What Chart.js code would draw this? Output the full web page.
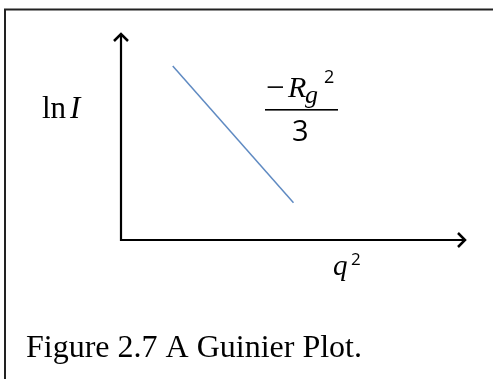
<!DOCTYPE html>
<html>
<head>
<meta charset="utf-8">
<script src="https://cdn.jsdelivr.net/npm/chart.js@4"></script>
<style>
    body { margin: 0; background: #ffffff; }
    canvas { display: block; }
</style>
</head>
<body>
<canvas id="guinier" width="493" height="379"></canvas>
<script>
// q^2 vs ln I, the straight Guinier region
const q2 = [1.5, 5.0];
const lnI = [8.4, 1.8];
const xRange = [0, 10];
const yRange = [0, 10];

const caption = 'Figure 2.7 A Guinier Plot.';

const sketch = {
    id: 'sketch',
    beforeDraw: function (chart) {
        const ctx = chart.ctx;
        ctx.save();
        ctx.fillStyle = '#ffffff';
        ctx.fillRect(0, 0, chart.width, chart.height);
        // frame round the figure, runs off the right and bottom
        ctx.strokeStyle = '#222222';
        ctx.lineWidth = 2;
        ctx.strokeRect(5, 9.5, chart.width + 20, chart.height + 20);
        ctx.restore();
    },
    afterDraw: function (chart) {
        const ctx = chart.ctx;
        const a = chart.chartArea;
        ctx.save();

        // axes with open arrow heads
        ctx.strokeStyle = '#000000';
        ctx.lineWidth = 2.2;
        ctx.lineCap = 'butt';
        ctx.beginPath();
        ctx.moveTo(a.left, a.top + 1);
        ctx.lineTo(a.left, a.bottom);
        ctx.lineTo(a.right - 1, a.bottom);
        ctx.stroke();
        ctx.lineWidth = 2.5;
        ctx.beginPath();
        ctx.moveTo(a.left - 7, a.top + 8);
        ctx.lineTo(a.left, a.top + 1);
        ctx.lineTo(a.left + 7, a.top + 8);
        ctx.moveTo(a.right - 8, a.bottom - 7);
        ctx.lineTo(a.right - 1, a.bottom);
        ctx.lineTo(a.right - 8, a.bottom + 7);
        ctx.stroke();

        ctx.fillStyle = '#000000';
        ctx.textBaseline = 'alphabetic';

        // y axis label: ln I
        ctx.font = '31px "Liberation Serif"';
        ctx.fillText('ln', 42, 118);
        ctx.font = 'italic 31px "Liberation Serif"';
        ctx.fillText('I', 70, 118);

        // slope: -Rg^2 / 3
        ctx.font = '33px "Liberation Serif"';
        ctx.fillText('\u2212', 266, 98);
        ctx.font = 'italic 30px "Liberation Serif"';
        ctx.fillText('R', 288, 97);
        ctx.font = 'italic 26px "Liberation Serif"';
        ctx.fillText('g', 305, 103);
        ctx.font = '18px "Open Sans"';
        ctx.fillText('2', 324, 83);
        ctx.fillRect(265, 109, 73, 1.6);
        ctx.font = '29px "Open Sans"';
        ctx.fillText('3', 292, 141);

        // x axis label: q^2
        ctx.font = 'italic 29px "Liberation Serif"';
        ctx.fillText('q', 333, 275);
        ctx.font = '17px "Open Sans"';
        ctx.fillText('2', 351, 265);

        // caption
        ctx.font = '32px "Liberation Serif"';
        ctx.fillText(caption, 26, 357);

        ctx.restore();
    }
};

const data = {
    datasets: [{
        label: 'ln I',
        data: q2.map(function (x, i) { return { x: x, y: lnI[i] }; }),
        borderColor: '#5f8ac2',
        borderWidth: 1.5,
        pointRadius: 0,
        fill: false,
        tension: 0
    }]
};

const config = {
    type: 'line',
    data: data,
    options: {
        responsive: false,
        animation: false,
        layout: {
            padding: { left: 121, right: 27, top: 33, bottom: 139 }
        },
        plugins: {
            legend: { display: false },
            tooltip: { enabled: false }
        },
        scales: {
            x: { type: 'linear', min: xRange[0], max: xRange[1], display: false },
            y: { type: 'linear', min: yRange[0], max: yRange[1], display: false }
        }
    },
    plugins: [sketch]
};

const guinierChart = new Chart(
    document.getElementById('guinier'),
    config
);
</script>
</body>
</html>
